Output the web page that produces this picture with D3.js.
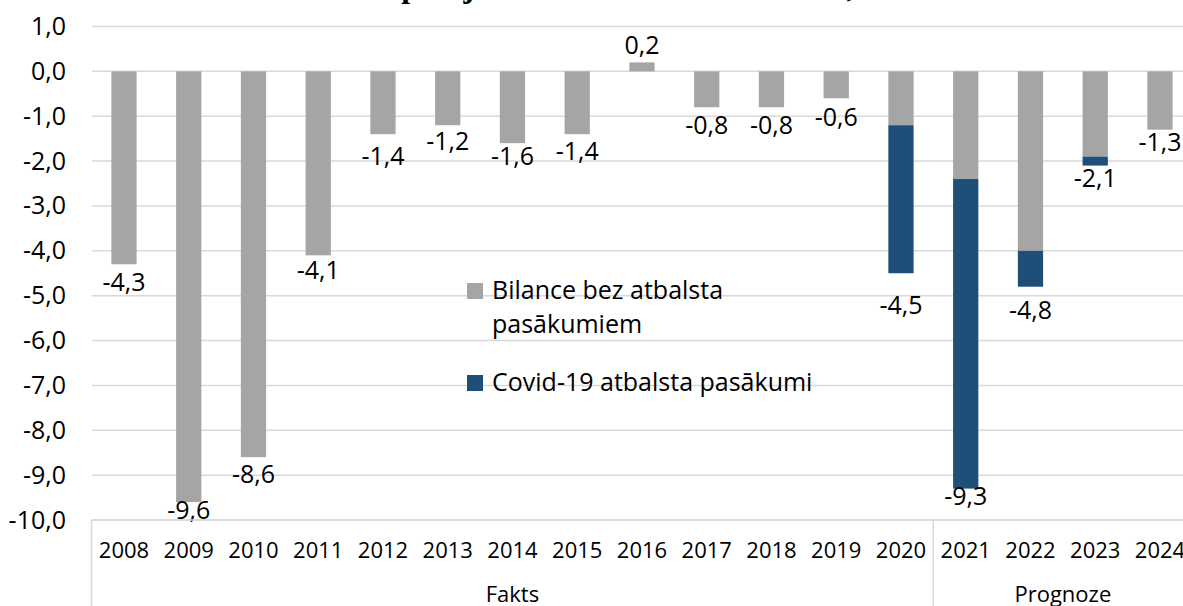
<!DOCTYPE html>
<html>
<head>
<meta charset="utf-8">
<script src="https://cdn.jsdelivr.net/npm/d3@7"></script>
<style>
  body { margin: 0; background: #fff; }
  svg text { font-family: "Open Sans", Carlito, Calibri, sans-serif; fill: #000; }
</style>
</head>
<body>
<div id="chart"></div>
<script>
var years = ["2008", "2009", "2010", "2011", "2012", "2013", "2014", "2015", "2016",
             "2017", "2018", "2019", "2020", "2021", "2022", "2023", "2024"];
// bilance bez atbalsta pasakumiem
var bilance = [-4.3, -9.6, -8.6, -4.1, -1.4, -1.2, -1.6, -1.4, 0.2,
               -0.8, -0.8, -0.6, -1.2, -2.4, -4.0, -1.9, -1.3];
// covid-19 atbalsta pasakumi
var covid = [0, 0, 0, 0, 0, 0, 0, 0, 0,
             0, 0, 0, -3.3, -6.9, -0.8, -0.2, 0];
var yTicks = [1, 0, -1, -2, -3, -4, -5, -6, -7, -8, -9, -10];
var groups = [
  { name: "Fakts", from: "2008", to: "2020" },
  { name: "Prognoze", from: "2021", to: "2024" }
];
var seriesNames = ["Bilance bez atbalsta", "pasākumiem", "Covid-19 atbalsta pasākumi"];

// small hand tweaks of label placement (px), like the original chart
var labelNudge = { "2008": 2, "2009": -8, "2010": 1, "2011": -1, "2012": 6, "2014": -3, "2015": 1,
                   "2017": 2, "2018": 2, "2019": 3, "2020": 16, "2021": -9, "2022": 7, "2023": -4, "2024": -4 };

var W = 1183, H = 606;
var grey = "#a5a5a5", blue = "#1f4e79", gridColor = "#d9d9d9";

var lv = d3.formatLocale({ decimal: ",", thousands: " ", grouping: [3], currency: ["", ""], minus: "-" });
var fmt = lv.format(".1f");

var svg = d3.select("#chart").append("svg")
  .attr("width", W).attr("height", H);

var x = d3.scaleBand().domain(years).range([91.6, 91.6 + 17 * 64.75]).padding(0);
var y = d3.scaleLinear().domain([1, -10]).range([26.5, 520]);
var barW = x.bandwidth() * 0.39;

// title (mostly above the visible area)
svg.append("text")
  .attr("x", 358).attr("y", -3)
  .style("font-family", "'Liberation Serif', 'Times New Roman', serif")
  .style("font-weight", "bold")
  .style("font-size", "32px")
  .text("Vispārējās valdības budžeta bilance, % no IKP");

// grid
svg.append("g").selectAll("line")
  .data(yTicks)
  .join("line")
  .attr("x1", 92).attr("x2", W + 20)
  .attr("y1", function (d) { return y(d); })
  .attr("y2", function (d) { return y(d); })
  .attr("stroke", gridColor).attr("stroke-width", 1.5);

// y axis
var yAxis = d3.axisLeft(y).tickValues(yTicks).tickSize(0).tickPadding(26).tickFormat(fmt);
var gy = svg.append("g").attr("transform", "translate(92,0)").call(yAxis);
gy.select(".domain").remove();
gy.selectAll("text").style("font-size", "25px").attr("fill", "#000");

// bars
var rows = years.map(function (yr, i) {
  return { year: yr, a: bilance[i], b: covid[i], total: bilance[i] + covid[i] };
});

svg.append("g").selectAll("rect")
  .data(rows)
  .join("rect")
  .attr("x", function (d) { return x(d.year) + (x.bandwidth() - barW) / 2; })
  .attr("width", barW)
  .attr("y", function (d) { return Math.min(y(0), y(d.a)); })
  .attr("height", function (d) { return Math.abs(y(d.a) - y(0)); })
  .attr("fill", grey);

svg.append("g").selectAll("rect")
  .data(rows.filter(function (d) { return d.b !== 0; }))
  .join("rect")
  .attr("x", function (d) { return x(d.year) + (x.bandwidth() - barW) / 2; })
  .attr("width", barW)
  .attr("y", function (d) { return y(d.a); })
  .attr("height", function (d) { return y(d.total) - y(d.a); })
  .attr("fill", blue);

// data labels
svg.append("g").selectAll("text")
  .data(rows)
  .join("text")
  .attr("x", function (d) { return x(d.year) + x.bandwidth() / 2; })
  .attr("y", function (d) {
    if (d.total > 0) return y(d.total) - 8.5;
    return y(d.total) + 25 + (labelNudge[d.year] || 0);
  })
  .attr("text-anchor", "middle")
  .style("font-size", "25px")
  .text(function (d) { return fmt(d.total); });

// category axis
var axisY = y(-10);
var ax = svg.append("g");
ax.append("line")
  .attr("x1", 92).attr("x2", W + 20).attr("y1", axisY).attr("y2", axisY)
  .attr("stroke", gridColor).attr("stroke-width", 1.5);
ax.selectAll("text.yr")
  .data(years)
  .join("text")
  .attr("class", "yr")
  .attr("x", function (d) { return x(d) + x.bandwidth() / 2; })
  .attr("y", 558)
  .attr("text-anchor", "middle")
  .style("font-size", "22px")
  .text(function (d) { return d; });

var seps = [x(groups[0].from), x(groups[1].from), x(groups[1].to) + x.bandwidth()];
ax.selectAll("line.sep")
  .data(seps)
  .join("line")
  .attr("class", "sep")
  .attr("x1", function (d) { return d; }).attr("x2", function (d) { return d; })
  .attr("y1", axisY).attr("y2", H + 5)
  .attr("stroke", gridColor).attr("stroke-width", 1.5);

ax.selectAll("text.grp")
  .data(groups)
  .join("text")
  .attr("class", "grp")
  .attr("x", function (g) { return (x(g.from) + x(g.to) + x.bandwidth()) / 2; })
  .attr("y", 602)
  .attr("text-anchor", "middle")
  .style("font-size", "22px")
  .text(function (g) { return g.name; });

// legend
var lg = svg.append("g").attr("transform", "translate(467,0)");
lg.append("rect").attr("x", 0).attr("y", 283).attr("width", 16).attr("height", 16).attr("fill", grey);
lg.append("rect").attr("x", 0).attr("y", 375).attr("width", 16).attr("height", 16).attr("fill", blue);
lg.selectAll("text")
  .data([[seriesNames[0], 299], [seriesNames[1], 333], [seriesNames[2], 391]])
  .join("text")
  .attr("x", 25)
  .attr("y", function (d) { return d[1]; })
  .style("font-size", "25px")
  .text(function (d) { return d[0]; });
</script>
</body>
</html>
